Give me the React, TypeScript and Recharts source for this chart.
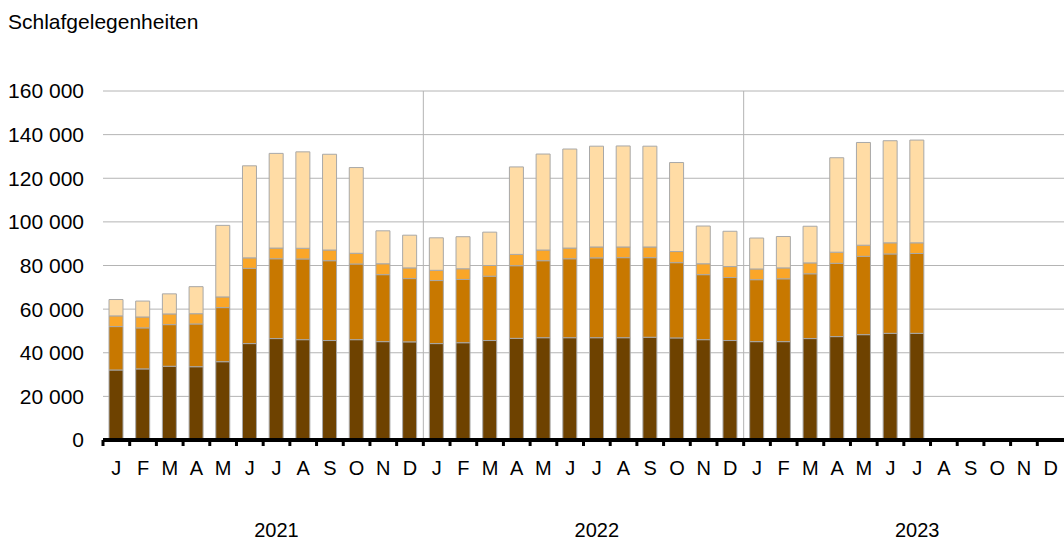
import { BarChart, Bar, XAxis, YAxis, CartesianGrid } from 'recharts';

const MONTHS = ['J', 'F', 'M', 'A', 'M', 'J', 'J', 'A', 'S', 'O', 'N', 'D'];
const YEARS = ['2021', '2022', '2023'];

// Schlafgelegenheiten by month, four stacked groups (bottom -> top)
const groupA = [
  32100, 32600, 33800, 33600, 35900, 44200, 46500, 46000, 45600, 46000, 45100, 45000,
  44200, 44600, 45600, 46600, 46900, 46900, 46900, 46900, 47100, 46800, 46000, 45600,
  45100, 45100, 46500, 47400, 48300, 48900, 48900, null, null, null, null, null,
];
const groupB = [
  19900, 18800, 19100, 19600, 24800, 34500, 36600, 37000, 36600, 34700, 30700, 29000,
  28900, 29000, 29500, 33300, 35300, 36200, 36600, 36700, 36500, 34500, 29800, 28900,
  28400, 28800, 29700, 33600, 35900, 36400, 36600, null, null, null, null, null,
];
const groupC = [
  4900, 5000, 4900, 4700, 4900, 4800, 4900, 4900, 4900, 4900, 5000, 4900,
  4700, 4900, 4900, 5200, 4900, 4900, 5000, 4900, 4900, 5100, 5000, 5000,
  4900, 5000, 5000, 5100, 5100, 5100, 4900, null, null, null, null, null,
];
const groupD = [
  7500, 7300, 9200, 12400, 32800, 42200, 43400, 44200, 43900, 39300, 15100, 15000,
  14900, 14700, 15300, 40100, 44000, 45400, 46200, 46300, 46200, 40800, 17300, 16200,
  14200, 14400, 16800, 43300, 47100, 46800, 47100, null, null, null, null, null,
];

const Y_TICKS = [0, 20000, 40000, 60000, 80000, 100000, 120000, 140000, 160000];

const data = YEARS.flatMap((year, yi) =>
  MONTHS.map((month, mi) => {
    const i = yi * 12 + mi;
    return {
      key: `${year}-${mi + 1}`,
      month,
      year,
      mi,
      a: groupA[i],
      b: groupB[i],
      c: groupC[i],
      d: groupD[i],
    };
  })
);

const FONT = "'Liberation Sans', Arial, sans-serif";

const fmt = (v: number) => String(v).replace(/\B(?=(\d{3})+(?!\d))/g, ' ');

function MonthTick(props: any) {
  const { x, y, payload } = props;
  const row = data[payload.index] ?? data.find((r) => r.key === payload.value);
  const half = payload.offset || 13.35;
  return (
    <g>
      <rect x={x - half - 1.5} y={y} width={3} height={6} fill="#000" />
      <text x={x} y={y + 35} textAnchor="middle" fontSize={20} fontFamily={FONT} fill="#000">
        {row?.month}
      </text>
      {row && row.mi === 6 && (
        <text x={x} y={y + 97} textAnchor="middle" fontSize={20} fontFamily={FONT} fill="#000">
          {row.year}
        </text>
      )}
    </g>
  );
}

// year separators at thirds of the plot area
const yearLines = (arg: any) => {
  const o = arg?.offset ?? { left: 103, width: 961 };
  return [o.left + o.width / 3, o.left + (2 * o.width) / 3];
};

export default function App() {
  return (
    <div style={{ position: 'absolute', left: 0, top: 0, width: 1064, height: 540, background: '#fff' }}>
      <div
        style={{
          position: 'absolute',
          left: 8,
          top: 10,
          fontFamily: FONT,
          fontSize: 21,
          color: '#000',
        }}
      >
        Schlafgelegenheiten
      </div>
      <BarChart
        width={1064}
        height={540}
        data={data}
        margin={{ top: 91, right: 0, left: 0, bottom: 0 }}
        barSize={14}
      >
        <CartesianGrid stroke="#b4b4b4" vertical={true} verticalCoordinatesGenerator={yearLines} />
        <XAxis
          dataKey="key"
          interval={0}
          height={100}
          tickSize={0}
          tickMargin={0}
          tickLine={false}
          axisLine={{ stroke: '#000', strokeWidth: 4 }}
          tick={<MonthTick />}
        />
        <YAxis
          domain={[0, 160000]}
          ticks={Y_TICKS}
          width={103}
          tickSize={0}
          tickMargin={19}
          axisLine={false}
          tickLine={false}
          tickFormatter={fmt}
          tick={{ fill: '#000', fontSize: 21, fontFamily: FONT }}
        />
        <Bar dataKey="a" stackId="s" fill="#6e4200" stroke="#a8a8a8" strokeWidth={1} isAnimationActive={false} />
        <Bar dataKey="b" stackId="s" fill="#c87800" stroke="#a8a8a8" strokeWidth={1} isAnimationActive={false} />
        <Bar dataKey="c" stackId="s" fill="#faa628" stroke="#a8a8a8" strokeWidth={1} isAnimationActive={false} />
        <Bar dataKey="d" stackId="s" fill="#ffdca5" stroke="#a8a8a8" strokeWidth={1} isAnimationActive={false} />
      </BarChart>
    </div>
  );
}
